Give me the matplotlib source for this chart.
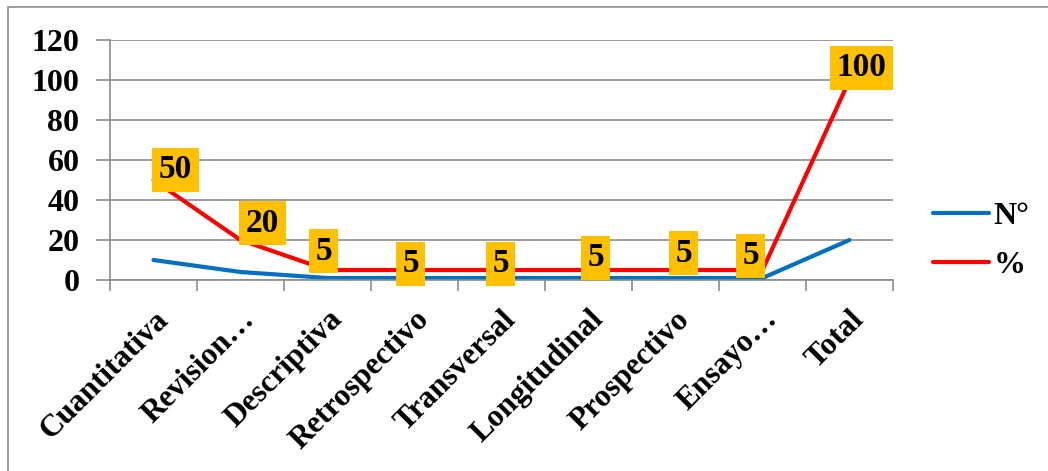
import matplotlib.pyplot as plt
from matplotlib.patches import Rectangle

# categories and series
categorias = ["Cuantitativa", "Revision…", "Descriptiva", "Retrospectivo", "Transversal",
              "Longitudinal", "Prospectivo", "Ensayo…", "Total"]
numero = [10, 4, 1, 1, 1, 1, 1, 1, 20]
porcentaje = [50, 20, 5, 5, 5, 5, 5, 5, 100]

# label offsets in pixels (layout only)
label_dx = [22, 22, -4, -4, -1, 7, 8, -12, 12]
label_dy = [10, 17, 19, 6, 6, 12, 17, 14, 12]

plt.rcParams['font.family'] = ['Liberation Serif', 'DejaVu Serif']

fig = plt.figure(figsize=(10.48, 4.71), dpi=100)
ax = fig.add_axes([110 / 1048, (471 - 280) / 471, 783 / 1048, 240 / 471])

# outer border (runs off the right and bottom edges)
fig.patches.append(Rectangle((8 / 1048, -10 / 471), 1050 / 1048, 474 / 471,
                             transform=fig.transFigure, fill=False,
                             edgecolor='#8c8c8c', linewidth=1.2))

x = list(range(len(categorias)))
ax.plot(x, numero, color='#0070C0', linewidth=3, label='N°', solid_capstyle='round')
ax.plot(x, porcentaje, color='#FF0000', linewidth=3, label='%', solid_capstyle='round')

for i, v in enumerate(porcentaje):
    ax.annotate(str(v), (i, v), xytext=(label_dx[i] * 0.72, label_dy[i] * 0.72),
                textcoords='offset points', ha='center', va='center',
                fontsize=24, fontweight='bold',
                bbox=dict(boxstyle='square,pad=0.2', facecolor='#FFC000', edgecolor='none'))

ax.set_xlim(-0.5, len(categorias) - 0.5)
ax.set_ylim(0, 120)
ax.set_yticks(range(0, 121, 20))
ax.set_xticks(x)
ax.set_xticklabels(categorias, rotation=45, ha='right', va='top', rotation_mode='anchor',
                   fontsize=22.5, fontweight='bold')
ax.tick_params(axis='x', length=0, pad=18)
ax.set_xticks([i - 0.5 for i in range(len(categorias) + 1)], minor=True)
ax.tick_params(axis='x', which='minor', length=8, color='#8c8c8c', width=1.2)
ax.tick_params(axis='y', length=10, color='#8c8c8c', width=1.2, pad=12)
for lab in ax.get_yticklabels():
    lab.set_fontsize(23)
    lab.set_fontweight('bold')

ax.grid(axis='y', color='#8c8c8c', linewidth=1.2)
ax.set_axisbelow(True)
for s in ['top', 'right']:
    ax.spines[s].set_visible(False)
ax.spines['left'].set_color('#8c8c8c')
ax.spines['bottom'].set_color('#8c8c8c')
ax.spines['left'].set_linewidth(1.2)
ax.spines['bottom'].set_linewidth(1.2)

leg = ax.legend(loc='center left', bbox_to_anchor=(1.051, 0.163), frameon=False,
                prop={'size': 23, 'weight': 'bold'}, handlelength=1.75,
                handletextpad=0.15, labelspacing=0.6, borderpad=0, borderaxespad=0)

fig.savefig('out.png', dpi=100)
